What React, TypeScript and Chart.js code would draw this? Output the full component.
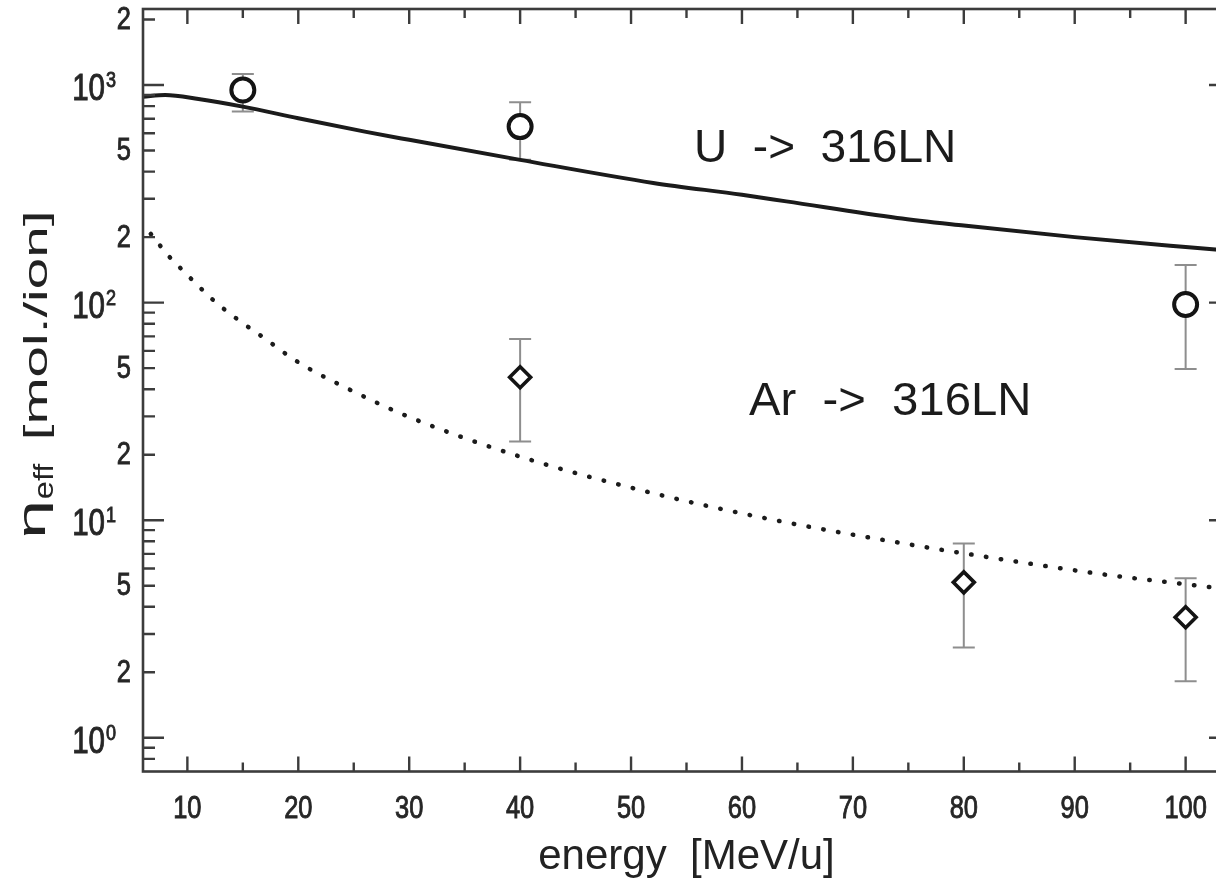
import React, { useEffect, useRef } from "react";
import { Chart, registerables } from "chart.js";

Chart.register(...registerables);

// ---- data ----
const uTheoryEnergy = [6, 8, 11, 15, 20, 26, 30, 40, 52, 60, 64, 74, 80, 90, 100, 104];
const uTheoryEta = [884, 900, 863, 796, 704, 611, 560, 453, 355, 313, 292, 245, 226, 200, 180, 173];

const arTheoryEnergy = [6.7, 8.4, 9.5, 12.4, 14.5, 16.8, 20, 25, 30, 40, 52, 63, 76, 80, 93, 100, 104];
const arTheoryEta = [207, 162, 142, 102, 84, 69.5, 53.2, 39, 29.8, 19.6, 13.3, 10.0, 7.6, 7.04, 5.6, 5.08, 4.8];

const uExpEnergy = [15, 40, 100];
const uExpEta = [949, 644, 98];
const uExpLow = [755, 453, 49.5];
const uExpHigh = [1123, 833, 149];

const arExpEnergy = [40, 80, 100];
const arExpEta = [45.4, 5.18, 3.58];
const arExpLow = [23.0, 2.6, 1.82];
const arExpHigh = [68.0, 7.82, 5.41];

const xMajorTicks = [10, 20, 30, 40, 50, 60, 70, 80, 90, 100];
const xMinorTicks = [15, 25, 35, 45, 55, 65, 75, 85, 95];
const xTickLabels = ["10", "20", "30", "40", "50", "60", "70", "80", "90", "100"];
const yDecades = [1, 10, 100, 1000];
const yDecadeExponents = ["0", "1", "2", "3"];
const yMantissas = [2, 5];
const yMantissaLabels = ["2", "5"];

const xTitle = "energy  [MeV/u]";
const yTitleMain = "η";
const yTitleSub = "eff";
const yTitleUnit = "[mol./ion]";
const annotationU = "U  ->  316LN";
const annotationAr = "Ar  ->  316LN";

const X_MIN = 6;
const X_MAX = 104;
const Y_MIN = 0.717;
const Y_MAX = 2236;

const INK = "#1b1b1b";
const AXIS = "#3c3c3c";
const ERR = "#8e8e8e";
const LABEL = "#262626";
const SANS = "'Liberation Sans', Arial, sans-serif";
const NARROW_SX = 0.82;

function drawFitted(
  ctx: CanvasRenderingContext2D,
  text: string,
  font: string,
  inkStart: number,
  inkLen: number,
  baseline: number
) {
  ctx.font = font;
  ctx.textAlign = "left";
  ctx.textBaseline = "alphabetic";
  const m = ctx.measureText(text);
  const inkL = -m.actualBoundingBoxLeft;
  const inkR = m.actualBoundingBoxRight;
  const s = inkLen / (inkR - inkL);
  ctx.save();
  ctx.translate(inkStart - inkL * s, baseline);
  ctx.scale(s, 1);
  ctx.fillText(text, 0, 0);
  ctx.restore();
}

function drawNarrow(
  ctx: CanvasRenderingContext2D,
  text: string,
  font: string,
  x: number,
  y: number,
  align: CanvasTextAlign,
  baseline: CanvasTextBaseline
) {
  ctx.save();
  ctx.font = font;
  ctx.textAlign = align;
  ctx.textBaseline = baseline;
  ctx.fillStyle = LABEL;
  ctx.strokeStyle = LABEL;
  ctx.lineWidth = 0.9;
  ctx.translate(x, y);
  ctx.scale(NARROW_SX, 1);
  ctx.fillText(text, 0, 0);
  ctx.strokeText(text, 0, 0);
  ctx.restore();
}

const decorPlugin = {
  id: "decor",
  beforeDatasetsDraw(chart: any) {
    const ctx: CanvasRenderingContext2D = chart.ctx;
    const xs = chart.scales.x;
    const ys = chart.scales.y;
    const drawBars = (es: number[], lo: number[], hi: number[]) => {
      es.forEach((e, i) => {
        const px = xs.getPixelForValue(e);
        const p1 = ys.getPixelForValue(lo[i]);
        const p2 = ys.getPixelForValue(hi[i]);
        ctx.beginPath();
        ctx.moveTo(px, p1);
        ctx.lineTo(px, p2);
        ctx.moveTo(px - 11, p1);
        ctx.lineTo(px + 11, p1);
        ctx.moveTo(px - 11, p2);
        ctx.lineTo(px + 11, p2);
        ctx.stroke();
      });
    };
    ctx.save();
    ctx.strokeStyle = ERR;
    ctx.lineWidth = 2;
    drawBars(uExpEnergy, uExpLow, uExpHigh);
    drawBars(arExpEnergy, arExpLow, arExpHigh);
    ctx.restore();
  },
  afterDraw(chart: any) {
    const ctx: CanvasRenderingContext2D = chart.ctx;
    const xs = chart.scales.x;
    const ys = chart.scales.y;
    const { left, right, top, bottom } = chart.chartArea;
    ctx.save();
    // frame
    ctx.strokeStyle = AXIS;
    ctx.lineWidth = 2.6;
    ctx.strokeRect(left, top, right - left, bottom - top);
    // x ticks
    ctx.lineWidth = 2.4;
    ctx.beginPath();
    xMajorTicks.forEach((v) => {
      const px = xs.getPixelForValue(v);
      ctx.moveTo(px, bottom);
      ctx.lineTo(px, bottom - 15);
      ctx.moveTo(px, top);
      ctx.lineTo(px, top + 15);
    });
    xMinorTicks.forEach((v) => {
      const px = xs.getPixelForValue(v);
      ctx.moveTo(px, bottom);
      ctx.lineTo(px, bottom - 9);
      ctx.moveTo(px, top);
      ctx.lineTo(px, top + 9);
    });
    // y ticks
    [0.1, 1, 10, 100, 1000].forEach((d) => {
      for (let m = 1; m <= 9; m++) {
        const v = m * d;
        if (v < Y_MIN || v > Y_MAX) continue;
        const py = ys.getPixelForValue(v);
        const len = m === 1 ? 21 : 12;
        ctx.moveTo(left, py);
        ctx.lineTo(left + len, py);
        ctx.moveTo(right, py);
        ctx.lineTo(right - len, py);
      }
    });
    ctx.stroke();

    // x tick labels
    xMajorTicks.forEach((v, i) => {
      drawNarrow(ctx, xTickLabels[i], `31px ${SANS}`, xs.getPixelForValue(v), 809, "center", "middle");
    });

    // y tick labels
    yDecades.forEach((d, i) => {
      const py = ys.getPixelForValue(d);
      ctx.font = `22px ${SANS}`;
      const supW = ctx.measureText(yDecadeExponents[i]).width * NARROW_SX;
      drawNarrow(ctx, yDecadeExponents[i], `22px ${SANS}`, 116, py + 2, "right", "alphabetic");
      drawNarrow(ctx, "10", `36px ${SANS}`, 116 - supW - 1, py + 15, "right", "alphabetic");
      yMantissas.forEach((m, j) => {
        const v = m * d;
        if (v < Y_MIN || v > Y_MAX) return;
        const pm = ys.getPixelForValue(v);
        drawNarrow(ctx, yMantissaLabels[j], `31px ${SANS}`, 131, pm + 1, "right", "middle");
      });
    });

    // x title
    ctx.fillStyle = "#222";
    ctx.font = `42px ${SANS}`;
    ctx.textAlign = "center";
    ctx.textBaseline = "alphabetic";
    ctx.fillText(xTitle, (left + right) / 2, 869);

    // y title (rotated): x along text (upwards on screen), y = screen x
    ctx.save();
    ctx.translate(0, 537);
    ctx.rotate(-Math.PI / 2);
    drawFitted(ctx, yTitleMain, `38px ${SANS}`, 0, 33, 45);
    drawFitted(ctx, yTitleSub, `27px ${SANS}`, 39, 35, 53);
    drawFitted(ctx, yTitleUnit, `34px ${SANS}`, 100, 224, 47);
    ctx.restore();

    // annotations
    ctx.fillStyle = INK;
    drawFitted(ctx, annotationU, `46px ${SANS}`, 697, 256, 162);
    drawFitted(ctx, annotationAr, `46px ${SANS}`, 749, 279, 415);

    ctx.restore();
  },
};

export default function App() {
  const ref = useRef<HTMLCanvasElement | null>(null);
  useEffect(() => {
    if (!ref.current) return;
    const toXY = (xs: number[], ys: number[]) => xs.map((x, i) => ({ x, y: ys[i] }));
    const chart = new Chart(ref.current, {
      type: "line",
      data: {
        datasets: [
          {
            label: "U theory",
            data: toXY(uTheoryEnergy, uTheoryEta),
            borderColor: INK,
            borderWidth: 4,
            pointRadius: 0,
            cubicInterpolationMode: "monotone",
            fill: false,
          },
          {
            label: "Ar theory",
            data: toXY(arTheoryEnergy, arTheoryEta),
            borderColor: INK,
            borderWidth: 4.5,
            borderDash: [0.5, 14.5],
            borderCapStyle: "round",
            pointRadius: 0,
            cubicInterpolationMode: "monotone",
            fill: false,
          },
          {
            label: "U data",
            data: toXY(uExpEnergy, uExpEta),
            showLine: false,
            pointStyle: "circle",
            pointRadius: 11.5,
            pointBorderWidth: 4,
            pointBackgroundColor: "#ffffff",
            pointBorderColor: "#141414",
          },
          {
            label: "Ar data",
            data: toXY(arExpEnergy, arExpEta),
            showLine: false,
            pointStyle: "rectRot",
            pointRadius: 10.5,
            pointBorderWidth: 3.6,
            pointBackgroundColor: "#ffffff",
            pointBorderColor: "#141414",
          },
        ],
      } as any,
      options: {
        animation: false,
        responsive: false,
        events: [],
        layout: { autoPadding: false, padding: { left: 143, top: 9, right: 10, bottom: 110.5 } },
        scales: {
          x: { type: "linear", min: X_MIN, max: X_MAX, display: false },
          y: { type: "logarithmic", min: Y_MIN, max: Y_MAX, display: false },
        },
        plugins: { legend: { display: false }, tooltip: { enabled: false } },
      } as any,
      plugins: [decorPlugin as any],
    });
    return () => chart.destroy();
  }, []);
  return (
    <div
      style={{
        position: "fixed",
        left: 0,
        top: 0,
        width: 1216,
        height: 882,
        overflow: "hidden",
        background: "#fff",
      }}
    >
      <canvas ref={ref} width={1240} height={882} style={{ display: "block" }} />
    </div>
  );
}
